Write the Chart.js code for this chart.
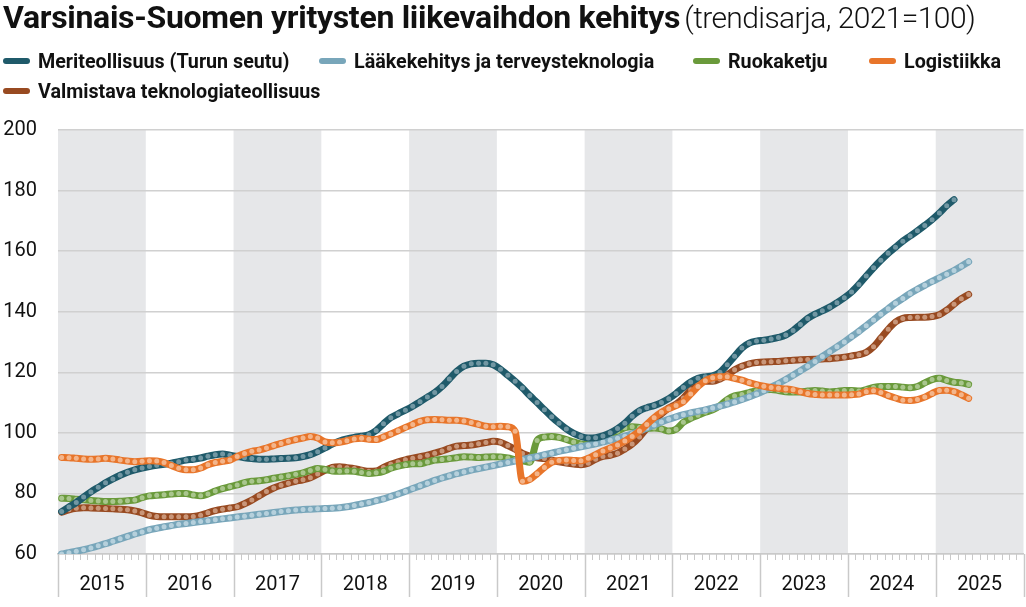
<!DOCTYPE html>
<html>
<head>
<meta charset="utf-8">
<script src="https://cdn.jsdelivr.net/npm/chart.js@4.4.1/dist/chart.umd.min.js"></script>
<style>
  html, body { margin: 0; padding: 0; background: #fff; }
  #wrap { position: relative; width: 1026px; height: 607px; overflow: hidden; }
  #title { position: absolute; left: 3px; top: 0px; font-family: Roboto, sans-serif; line-height: 34px; color: #111; white-space: nowrap; }
  #title b { font-weight: 700; font-size: 32px; letter-spacing: -0.3px; }
  #title span { font-weight: 300; font-size: 30px; letter-spacing: -0.6px; }
  .lg { position: absolute; display: flex; align-items: center; height: 22px; font-family: Roboto, sans-serif; font-size: 19.7px; font-weight: 700; color: #111; white-space: nowrap; }
  .lg i { display: inline-block; width: 27px; height: 6px; border-radius: 3px; margin-right: 8px; }
  canvas { position: absolute; left: 0; top: 0; }
</style>
</head>
<body>
<div id="wrap">
  <canvas id="c" width="1026" height="607"></canvas>
  <div id="title"><b>Varsinais-Suomen yritysten liikevaihdon kehitys</b> <span>(trendisarja, 2021=100)</span></div>
  <div id="legend"></div>
</div>
<script>
const years = [2015, 2016, 2017, 2018, 2019, 2020, 2021, 2022, 2023, 2024, 2025];
const seriesNames = ["Meriteollisuus (Turun seutu)", "Lääkekehitys ja terveysteknologia", "Ruokaketju", "Logistiikka", "Valmistava teknologiateollisuus"];
const lineColors = ["#1f5a6a", "#78a6ba", "#6a9a3b", "#e8752a", "#984a21"];
const dotColors = ["#7197a3", "#b5d0dc", "#a9c68d", "#f3b58b", "#c99679"];
const yTicks = [60, 80, 100, 120, 140, 160, 180, 200];

// monthly values, Jan 2015 onward
const meriteollisuus = [
74,75.5,77,78.8,80.5,82,83.5,84.8,86,87,87.8,88.4,
88.9,89.3,89.6,90,90.5,91,91.3,91.7,92.3,92.8,93,92.6,
92.2,91.8,91.5,91.3,91.3,91.4,91.5,91.6,91.8,92.2,92.8,93.8,
95,96.3,97.3,98,98.5,98.9,99.4,100.8,103,105,106.3,107.5,
108.8,110.3,111.8,113.3,115.3,117.8,120.3,122,122.8,123,123,122.5,
121,119,117,114.8,112.3,110,107.6,105.3,103.2,101.3,99.8,98.8,
98.3,98.4,99,100,101.4,103.2,105.5,107.3,108.3,109,110,111.3,
113,115,116.8,118,118.5,118.8,120,122.5,125.3,128,129.6,130.3,
130.6,131,131.5,132.3,133.8,135.8,137.8,139.2,140.3,141.5,143,144.6,
146.5,149,151.8,154.5,157,159.3,161.3,163.3,165,166.7,168.5,170.4,
172.6,175,177];
const laakekehitys = [
60,60.4,60.9,61.4,62,62.7,63.4,64.2,65,65.8,66.6,67.3,
68,68.5,69,69.4,69.8,70.1,70.4,70.7,71,71.3,71.6,71.9,
72.2,72.5,72.8,73.1,73.4,73.7,74,74.3,74.5,74.7,74.8,74.9,
75,75.1,75.3,75.6,76,76.5,77,77.6,78.2,79,79.8,80.7,
81.6,82.5,83.4,84.3,85.1,85.8,86.5,87.1,87.7,88.2,88.7,89.2,
89.7,90.2,90.7,91.2,91.7,92.2,92.8,93.3,93.9,94.4,94.9,95.4,
95.9,96.4,97,97.6,98.2,98.9,99.7,100.6,101.6,102.6,103.6,104.5,
105.3,106,106.6,107.1,107.6,108.2,108.8,109.5,110.2,111,111.9,112.8,
113.9,115.1,116.3,117.6,119,120.5,122,123.6,125.2,126.8,128.4,130,
131.8,133.5,135.4,137.3,139.2,141,142.8,144.4,146,147.4,148.7,150,
151.2,152.4,153.6,155,156.5];
const ruokaketju = [
78.4,78.3,78.1,77.9,77.7,77.5,77.3,77.3,77.4,77.6,77.8,78.6,
79.2,79.4,79.6,79.8,80,80,79.5,79.2,79.8,80.8,81.6,82.2,
82.8,83.6,84,84.2,84.5,85,85.4,85.8,86.3,86.8,87.6,88.2,
87.9,87.4,87.3,87.4,87.3,86.9,86.6,86.8,87.3,88.3,89,89.5,
89.8,89.8,90.4,91,91.2,91.5,91.8,92.1,92,91.9,92,92.1,
92,91.7,91.2,90.8,90.3,97.5,98.6,98.8,98.5,97.8,97,96.3,
96.2,96.6,97.5,98.8,100.5,101.7,102,101.8,101.5,101.6,101.3,100.6,
101.2,103.5,104.8,105.8,106.8,107.6,109,111,112.2,112.7,113.3,113.9,
114.2,114.3,114,113.6,113.5,113.5,113.8,114,113.8,113.5,113.7,114,
114,113.8,114.3,115,115.3,115.3,115.3,115.1,114.9,115.3,116.5,117.6,
118,117.3,116.7,116.5,116];
const logistiikka = [
91.9,91.8,91.6,91.4,91.3,91.4,91.6,91.4,91,90.7,90.5,90.6,
90.8,90.7,90.2,89.2,88.3,87.8,87.8,88.4,89.5,90.2,90.6,91,
92.2,93.2,93.9,94.3,95,95.8,96.5,97.2,97.8,98.3,98.8,98.3,
97,96.7,96.9,97.4,98,98.2,97.9,97.8,98.6,99.6,100.7,101.8,
102.8,103.8,104.3,104.4,104.3,104.2,104.2,103.9,103.4,102.8,102.2,102,
102.2,102,100.5,84,84.6,86.5,88.6,90.3,90.9,91,90.9,90.8,
91.6,92.8,94,95,96,97.3,98.8,100.6,102.8,105,106.8,108,
109,110.3,112.8,115.3,117.2,118.2,118.5,118.5,118,117.4,116.6,115.9,
115.4,115,114.7,114.5,114.2,113.6,113,112.7,112.5,112.5,112.5,112.5,
112.6,112.8,113.6,113.9,113.3,112.3,111.5,110.8,110.7,111,111.8,113,
114,114.1,113.6,112.6,111.4];
const valmistava = [
73.8,74.6,75.1,75.3,75.2,75.1,75,74.9,74.8,74.6,74.2,73.6,
72.8,72.4,72.3,72.3,72.3,72.3,72.4,72.8,73.6,74.3,74.8,75.2,
75.6,76.6,77.8,79.2,80.6,81.8,82.7,83.4,84,84.5,85.2,86.4,
87.6,88.6,88.8,88.5,88.2,87.7,87.3,87.4,88.6,89.6,90.4,91.1,
91.6,92.1,92.6,93.3,94,94.9,95.6,95.8,96,96.4,96.8,97.2,
96.9,95.8,94.6,93.2,92.3,91.8,91.5,91,90.4,90,89.7,89.5,
90,91.3,92.2,92.6,93.3,94.7,96.3,98.6,101.5,104,106.3,108.2,
109.5,111.5,114.2,116.3,117,117,117.8,119.2,120.8,122,122.8,123.2,
123.4,123.5,123.6,123.8,124,124.1,124.2,124.3,124.4,124.5,124.7,125,
125.4,125.8,126.6,128.4,131.3,134.2,136.6,137.8,138.1,138.2,138.2,138.4,
139,140.5,142.5,144.3,145.7];

const allSeries = [meriteollisuus, laakekehitys, ruokaketju, logistiikka, valmistava];
const drawOrder = [1, 2, 3, 0, 4];

// HTML legend
const legendPos = [[3, 50], [319, 50], [693, 50], [869, 50], [3, 80]];
const legendEl = document.getElementById('legend');
seriesNames.forEach((n, k) => {
  const d = document.createElement('div');
  d.className = 'lg';
  d.style.left = legendPos[k][0] + 'px';
  d.style.top = legendPos[k][1] + 'px';
  const ic = document.createElement('i');
  ic.style.background = lineColors[k];
  d.appendChild(ic);
  d.appendChild(document.createTextNode(n));
  legendEl.appendChild(d);
});

const bandsPlugin = {
  id: 'bands',
  beforeDraw(chart) {
    const { ctx, chartArea, scales } = chart;
    const xs = scales.x;
    ctx.save();
    ctx.fillStyle = '#e6e7e9';
    years.forEach((y, k) => {
      if (k % 2 === 0) {
        const x0 = xs.getPixelForValue(k * 12);
        const x1 = xs.getPixelForValue(k * 12 + 12);
        ctx.fillRect(x0, chartArea.top, x1 - x0, chartArea.bottom - chartArea.top);
      }
    });
    ctx.restore();
  },
  afterDraw(chart) {
    const { ctx, chartArea, scales } = chart;
    const xs = scales.x;
    ctx.save();
    ctx.strokeStyle = '#c9c9c9';
    for (let m = 0; m <= years.length * 12; m++) {
      const x = Math.round(xs.getPixelForValue(m)) + 0.5;
      ctx.beginPath();
      if (m % 12 === 0) {
        ctx.lineWidth = 1.5;
        ctx.moveTo(x, chartArea.bottom);
        ctx.lineTo(x, chartArea.bottom + 43);
      } else {
        ctx.lineWidth = 1;
        ctx.moveTo(x, chartArea.bottom);
        ctx.lineTo(x, chartArea.bottom + 6);
      }
      ctx.stroke();
    }
    ctx.restore();
  }
};

const datasets = allSeries.map((arr, k) => ({
  label: seriesNames[k],
  data: arr.map((v, i) => ({ x: i + 0.5, y: v })),
  borderColor: lineColors[k],
  backgroundColor: lineColors[k],
  borderWidth: 7,
  borderCapStyle: 'round',
  borderJoinStyle: 'round',
  pointRadius: 2.5,
  pointHoverRadius: 2.5,
  pointBorderWidth: 0,
  pointBackgroundColor: dotColors[k],
  cubicInterpolationMode: 'monotone',
  order: drawOrder[k]
}));

new Chart(document.getElementById('c'), {
  type: 'line',
  data: { datasets },
  options: {
    responsive: false,
    animation: false,
    devicePixelRatio: 1,
    layout: { padding: { top: 130, right: 1, left: 0, bottom: 0 } },
    plugins: { legend: { display: false }, tooltip: { enabled: false }, title: { display: false } },
    scales: {
      x: {
        type: 'linear',
        min: 0,
        max: years.length * 12,
        grid: { display: false, drawTicks: false },
        border: { display: true, color: '#c9c9c9', width: 1.5 },
        afterBuildTicks(scale) { scale.ticks = years.map((y, k) => ({ value: k * 12 + 6 })); },
        afterFit(scale) { scale.height = 53; },
        ticks: {
          autoSkip: false, maxRotation: 0, padding: 19,
          color: '#111', font: { family: 'Roboto', size: 20 },
          callback: (v) => String(years[Math.round((v - 6) / 12)])
        }
      },
      y: {
        min: 60, max: 200,
        afterBuildTicks(scale) { scale.ticks = yTicks.map(v => ({ value: v })); },
        afterFit(scale) { scale.width = 58; },
        grid: { color: '#d0d0d0', lineWidth: 1.5, drawTicks: false },
        border: { display: false },
        ticks: { padding: 21, color: '#111', font: { family: 'Roboto', size: 20 } }
      }
    }
  },
  plugins: [bandsPlugin]
});
</script>
</body>
</html>
